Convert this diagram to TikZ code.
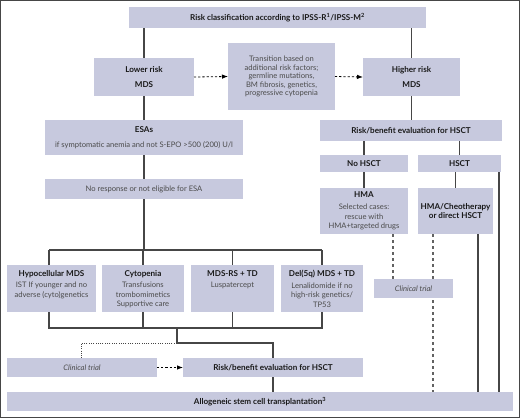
\documentclass[tikz,border=0pt]{standalone}
\usepackage{fontspec}
\setmainfont{Lato}
\usetikzlibrary{arrows.meta,calc}
\definecolor{boxfill}{RGB}{199,201,222}
\definecolor{linec}{RGB}{70,70,70}
\definecolor{txt}{RGB}{75,75,75}
\definecolor{btxt}{RGB}{25,25,25}
\newcommand\fs{\fontsize{7.6}{9.5}\selectfont}
\newcommand\fss{\fontsize{7.6}{8.4}\selectfont}
\newcommand\bfx{\fontsize{8.1}{9.5}\selectfont\bfseries\color{btxt}}
\begin{document}
\begin{tikzpicture}[x=1pt,y=-1pt,
  box/.style={fill=boxfill, draw=none, inner sep=0pt, outer sep=0pt, align=center, font=\fs, text=txt},
  rt/.style={font=\fs, text=txt, align=center, inner sep=0pt},
  conn/.style={draw=linec, line width=1.1pt},
  dasharrow/.style={draw=black, line width=0.8pt, dash pattern=on 2.2pt off 2pt, -{Latex[length=6pt,width=4.5pt]}},
  dashline/.style={draw=linec!85, line width=1.2pt, dash pattern=on 3pt off 3pt},
  dotline/.style={draw=linec, line width=0.8pt, dash pattern=on 1pt off 1.3pt},
]
\useasboundingbox (0,0) rectangle (520,418);
\draw[draw=linec, line width=1pt] (0.5,0.5) rectangle (519.5,417.5);

% boxes
\node[box, minimum width=297pt, minimum height=21pt] (top) at (277.5,17.5) {\bfx Risk classification according to IPSS-R\textsuperscript{1}/IPSS-M\textsuperscript{2}};
\node[box, minimum width=100pt, minimum height=38pt] (lower) at (144,77) {\bfx Lower risk\\[4.8pt]\bfx MDS};
\node[box, minimum width=107pt, minimum height=67pt, font=\fss] (trans) at (281.5,76.5) {Transition based on\\additional risk factors;\\germline mutations,\\BM fibrosis, genetics,\\progressive cytopenia};
\node[box, minimum width=97pt, minimum height=38pt] (higher) at (411.5,77) {\bfx Higher risk\\[4.8pt]\bfx MDS};
\node[box, minimum width=198pt, minimum height=35pt] (esa) at (144,137.5) {\bfx ESAs\\[5.5pt]if symptomatic anemia and not S-EPO >500 (200) U/l};
\node[box, minimum width=182pt, minimum height=21pt] (rb1) at (411,130.5) {\bfx Risk/benefit evaluation for HSCT};
\node[box, minimum width=88pt, minimum height=17pt] (nohsct) at (364,163.5) {\bfx No HSCT};
\node[box, minimum width=83pt, minimum height=17pt] (hsct) at (459.5,163.5) {\bfx HSCT};
\node[box, minimum width=88pt, minimum height=46pt] (hma) at (364,211) {};
\node[box, minimum width=75pt, minimum height=46pt] (hmac) at (455.5,211) {\bfx HMA/Cheotherapy\\\bfx or direct HSCT};
\node[box, minimum width=198pt, minimum height=20pt] (noresp) at (144,189) {No response or not eligible for ESA};
\node[box, minimum width=89pt, minimum height=47pt] (hypo) at (51.5,288.5) {};
\node[box, minimum width=82pt, minimum height=47pt] (cyto) at (143,288.5) {};
\node[box, minimum width=83pt, minimum height=47pt] (mdsrs) at (232.5,288.5) {};
\node[box, minimum width=82pt, minimum height=47pt] (del5q) at (322,288.5) {};
\node[box, minimum width=150pt, minimum height=19pt] (ct1) at (82,367.5) {\itshape Clinical trial};
\node[box, minimum width=180pt, minimum height=19pt] (rb2) at (273,367.5) {\bfx Risk/benefit evaluation for HSCT};

% helper coordinates
\coordinate (alloTop) at (260,392);
\coordinate (r1) at ($(hsct.south east)+(-2,0)$);
\coordinate (r2) at ($(hmac.south east)+(-15,0)$);
\coordinate (d1) at ($(hma.south east)+(-15,0)$);
\coordinate (d2) at ($(hmac.south west)+(15,0)$);

% dashed line passing behind the right clinical trial box
\draw[dashline] (d2) -- (d2 |- alloTop);
\node[box, minimum width=79pt, minimum height=19pt] (ct2) at (413.5,288.5) {\itshape Clinical trial};

% top-aligned texts
\node[rt, anchor=north] (hmat) at ($(hma.north)+(0,3)$) {{\bfx HMA}\\[3pt]Selected cases:\\rescue with\\HMA+targeted drugs};
\node[rt, anchor=north] (hypot) at ($(hypo.north)+(0,5)$) {{\bfx Hypocellular MDS}\\[2.2pt]IST If younger and no\\adverse (cyto)genetics};
\node[rt, anchor=north] (cytot) at ($(cyto.north)+(0,5)$) {{\bfx Cytopenia}\\[2.2pt]Transfusions\\trombomimetics\\Supportive care};
\node[rt, anchor=north] (mdsrst) at ($(mdsrs.north)+(0,5)$) {{\bfx MDS-RS + TD}\\[2.2pt]Luspatercept};
\node[rt, anchor=north] (del5qt) at ($(del5q.north)+(0,5)$) {{\bfx Del(5q) MDS + TD}\\[2.2pt]Lenalidomide if no\\high-risk genetics/\\TP53};

\coordinate (b1) at (144,250);
\coordinate (b2) at (177,328);
\coordinate (b3) at (177,343);

% upper left
\draw[conn] (lower.north |- top.south) -- (lower.north);
\draw[conn] (higher.north |- top.south) -- (higher.north);
\draw[conn] (lower.south) -- (esa.north);
\draw[conn] (esa.south) -- (noresp.north);
\draw[conn] (noresp.south) -- (b1);
\draw[conn] ([xshift=-2.5pt]hypo.north |- b1) -- (del5q.north |- b1);
\draw[conn] ([xshift=-2.5pt]hypo.north |- b1) -- ([xshift=-2.5pt]hypo.north);
\draw[conn] (cyto.north |- b1) -- (cyto.north);
\draw[conn] (mdsrs.north |- b1) -- (mdsrs.north);
\draw[conn] (del5q.north |- b1) -- (del5q.north);
% lower branch
\draw[conn] ([xshift=-2.5pt]hypo.south) -- ([xshift=-2.5pt]hypo.south |- b2) -- (del5q.south |- b2) -- (del5q.south);
\draw[conn] (cyto.south) -- (cyto.south |- b2);
\draw[conn] (mdsrs.south) -- (mdsrs.south |- b2);
\draw[conn] (b2) -- (b3) -| (rb2.north);
\draw[dotline] (b3) -| ([xshift=-1pt]ct1.north);
\draw[conn] (rb2.south) -- (rb2.south |- alloTop);
% right side
\draw[conn] (higher.south) -- (higher.south |- rb1.north);
\draw[conn] (nohsct.north |- rb1.south) -- (nohsct.north);
\draw[conn] (hsct.north |- rb1.south) -- (hsct.north);
\draw[conn] (nohsct.south) -- (hma.north);
\draw[conn] (hmac.north |- hsct.south) -- (hmac.north);
\draw[conn] (r1) -- (r1 |- alloTop);
\draw[conn] (r2) -- (r2 |- alloTop);
\draw[dashline] (d1) -- (d1 |- ct2.north);

% dashed arrows
\draw[dasharrow] (lower.east) -- (trans.west);
\draw[dasharrow] (trans.east) -- (higher.west);
\draw[dasharrow] (ct1.east) -- (rb2.west);

% bottom box last
\node[box, minimum width=506pt, minimum height=19pt, anchor=north] (allo) at (alloTop) {\bfx Allogeneic stem cell transplantation\textsuperscript{3}};
\end{tikzpicture}
\end{document}
